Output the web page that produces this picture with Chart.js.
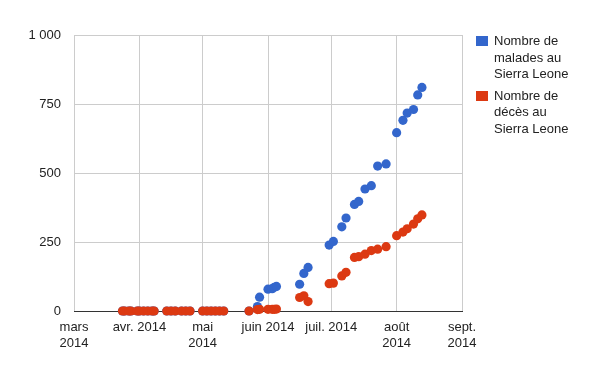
<!DOCTYPE html>
<html>
<head>
<meta charset="utf-8">
<script src="https://cdn.jsdelivr.net/npm/chart.js@4/dist/chart.umd.min.js"></script>
<style>
  html, body { margin: 0; padding: 0; background: #fff; }
  #wrap { position: relative; width: 605px; height: 389px; }
  .legend { position: absolute; left: 476px; font: 13px Arial, "Liberation Sans", sans-serif; color: #222; }
  .item { position: relative; padding-left: 18px; line-height: 16.5px; }
  .swatch { position: absolute; left: 0; top: 3px; width: 12px; height: 10px; }
</style>
</head>
<body>
<div id="wrap">
  <canvas id="chart" width="605" height="389"></canvas>
  <div class="legend" id="legend"></div>
</div>
<script>
// relevés OMS, Sierra Leone 2014
dates = ["2014-03-24","2014-03-25","2014-03-27","2014-03-28","2014-03-31","2014-04-01","2014-04-03","2014-04-05","2014-04-07","2014-04-08",
         "2014-04-14","2014-04-16","2014-04-18","2014-04-21","2014-04-23","2014-04-25",
         "2014-05-01","2014-05-03","2014-05-05","2014-05-07","2014-05-09","2014-05-11",
         "2014-05-23","2014-05-27","2014-05-28","2014-06-01","2014-06-03","2014-06-04","2014-06-05",
         "2014-06-16","2014-06-18","2014-06-20","2014-06-30","2014-07-02","2014-07-06","2014-07-08",
         "2014-07-12","2014-07-14","2014-07-17","2014-07-20","2014-07-23","2014-07-27",
         "2014-08-01","2014-08-04","2014-08-06","2014-08-09","2014-08-11","2014-08-13"];
cases = [0,0,0,0,0,0,0,0,0,0,
         0,0,0,0,0,0,
         0,0,0,0,0,0,
         0,16,50,79,81,86,89,
         97,136,158,239,252,305,337,
         386,397,442,454,525,533,
         646,691,717,730,783,810];
deaths = [0,0,0,0,0,0,0,0,0,0,
          0,0,0,0,0,0,
          0,0,0,0,0,0,
          0,5,6,6,6,6,7,
          49,55,34,99,101,127,140,
          194,197,206,219,224,233,
          273,286,298,315,334,348];
seriesNames = [["Nombre de", "malades au", "Sierra Leone"], ["Nombre de", "décès au", "Sierra Leone"]];
seriesColors = ["#3366cc", "#dc3912"];
monthTicks = ["2014-03-01","2014-04-01","2014-05-01","2014-06-01","2014-07-01","2014-08-01","2014-09-01"];
monthLabels = [["mars","2014"], "avr. 2014", ["mai","2014"], "juin 2014", "juil. 2014", ["août","2014"], ["sept.","2014"]];
yTicks = [0, 250, 500, 750, 1000];
yTickLabels = ["0", "250", "500", "750", "1 000"];

function toPoints(values){
    return dates.map((d, i) => ({x: Date.parse(d), y: values[i]}));
}

font = {family: "Arial, 'Liberation Sans', sans-serif", size: 13};

new Chart("chart", {
    type: "scatter",
    data: {
        datasets: [
            {label: seriesNames[0].join(" "), data: toPoints(cases), backgroundColor: seriesColors[0], order: 2},
            {label: seriesNames[1].join(" "), data: toPoints(deaths), backgroundColor: seriesColors[1], order: 1}
        ]
    },
    options: {
        responsive: false,
        animation: false,
        events: [],
        layout: {padding: {left: 0, top: 35, right: 143, bottom: 0}},
        elements: {point: {radius: 4.6, borderWidth: 0, hoverRadius: 4.6}},
        datasets: {scatter: {clip: false}},
        plugins: {legend: {display: false}, tooltip: {enabled: false}},
        scales: {
            x: {
                type: "linear",
                min: Date.parse(monthTicks[0]),
                max: Date.parse(monthTicks[monthTicks.length - 1]),
                afterBuildTicks: s => { s.ticks = monthTicks.map(d => ({value: Date.parse(d)})); },
                afterFit: s => { s.height = 78; },
                grid: {color: "#cccccc", drawTicks: false},
                border: {color: "#333333"},
                ticks: {
                    autoSkip: false, maxRotation: 0, padding: 8, color: "#222",
                    font: Object.assign({lineHeight: 1.23}, font),
                    callback: (v, i) => monthLabels[i]
                }
            },
            y: {
                min: 0, max: 1000,
                afterBuildTicks: s => { s.ticks = yTicks.map(v => ({value: v})); },
                afterFit: s => { s.width = 74; },
                grid: {color: "#cccccc", drawTicks: false},
                border: {display: false},
                ticks: {padding: 13, color: "#222", font: font, callback: (v, i) => yTickLabels[i]}
            }
        }
    }
});

// légende à droite, texte sur trois lignes
legend = document.getElementById("legend");
legend.style.top = "33px";
seriesNames.forEach((lines, i) => {
    let item = document.createElement("div");
    item.className = "item";
    if (i > 0) item.style.marginTop = "5px";
    item.innerHTML = `<span class="swatch" style="background:${seriesColors[i]}"></span>` + lines.join("<br>");
    legend.appendChild(item);
});
</script>
</body>
</html>
